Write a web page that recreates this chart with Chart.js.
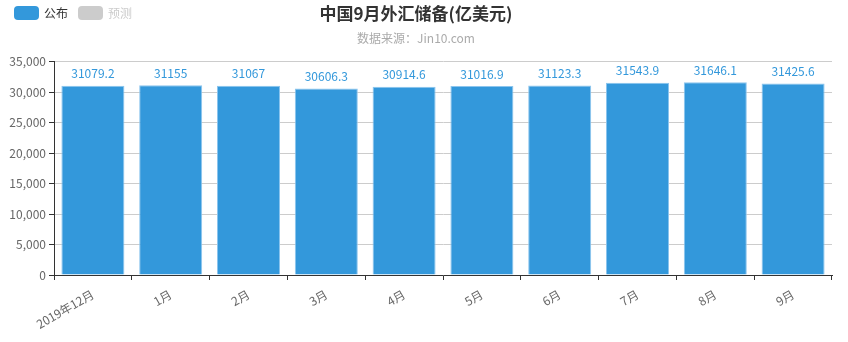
<!DOCTYPE html>
<html><head><meta charset="utf-8">
<script src="https://cdn.jsdelivr.net/npm/chart.js@4/dist/chart.umd.min.js"></script>
<style>
html,body{margin:0;padding:0;background:#fff;}
#wrap{position:relative;width:848px;height:342px;}
#legend{position:absolute;left:14px;top:4px;font:12px "Noto Sans CJK SC",sans-serif;display:flex;align-items:center;}
.box{display:inline-block;width:25px;height:14px;border-radius:4px;margin-right:5px;}
.item{display:flex;align-items:center;margin-right:10px;}
</style></head>
<body><div id="wrap"><canvas id="c" width="848" height="342"></canvas>
<div id="legend"><span class="item"><span class="box" style="background:#3398DB"></span><span style="color:#333">公布</span></span><span class="item"><span class="box" style="background:#ccc"></span><span style="color:#ccc">预测</span></span></div>
</div>
<script>
const categories = ["2019年12月","1月","2月","3月","4月","5月","6月","7月","8月","9月"];
const published = [31079.2,31155,31067,30606.3,30914.6,31016.9,31123.3,31543.9,31646.1,31425.6];
const yTicks = [0,5000,10000,15000,20000,25000,30000,35000];
const FONT = '"Noto Sans CJK SC", sans-serif';

const labelPlugin = {
  id:'vals',
  afterDatasetsDraw(chart){
    const ctx = chart.ctx;
    const meta = chart.getDatasetMeta(0);
    ctx.save();
    ctx.fillStyle = '#3398DB';
    ctx.font = '12px ' + FONT;
    ctx.textAlign = 'center';
    ctx.textBaseline = 'bottom';
    meta.data.forEach((el,i)=>{
      ctx.fillText(String(published[i]), el.x, el.y - 6);
    });
    ctx.restore();
  }
};

new Chart(document.getElementById('c'),{
  type:'bar',
  data:{labels:categories,datasets:[{label:'公布',data:published,backgroundColor:'#3398DB',borderColor:'#8cc5ee',borderWidth:1,barPercentage:0.81,categoryPercentage:1}]},
  options:{
    responsive:false,animation:false,
    layout:{padding:{top:0,right:16,left:0,bottom:0}},
    plugins:{
      legend:{display:false},
      tooltip:{enabled:false},
      title:{display:true,text:'中国9月外汇储备(亿美元)',color:'#333',font:{family:FONT,size:17,weight:'bold'},padding:{top:3,bottom:4}},
      subtitle:{display:true,text:'数据来源：Jin10.com',color:'#aaa',font:{family:FONT,size:12},padding:{top:4,bottom:16}}
    },
    scales:{
      x:{
        afterFit:s=>{s.height=67;},
        border:{color:'#333'},
        grid:{offset:true,drawOnChartArea:false,tickLength:5,color:'#333'},
        ticks:{color:'#666',font:{family:FONT,size:12},minRotation:30,maxRotation:30,padding:7}
      },
      y:{
        min:0,max:35000,
        afterFit:s=>{s.width=54;},
        afterBuildTicks:s=>{s.ticks=yTicks.map(v=>({value:v}));},
        border:{color:'#333'},
        grid:{color:'#ccc',tickColor:'#333',tickLength:5},
        ticks:{color:'#666',font:{family:FONT,size:12},padding:3,callback:v=>v.toLocaleString('en-US')}
      }
    }
  },
  plugins:[labelPlugin]
});
</script></body></html>
